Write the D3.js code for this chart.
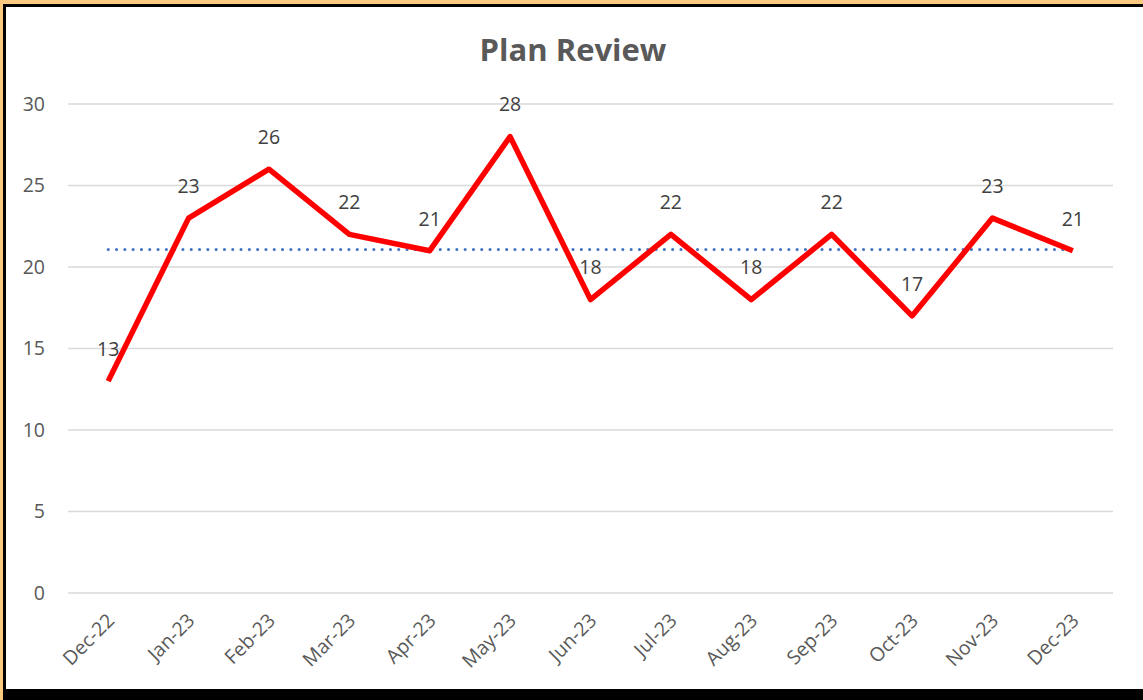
<!DOCTYPE html>
<html>
<head>
<meta charset="utf-8">
<script src="https://cdn.jsdelivr.net/npm/d3@7"></script>
<style>
  body { margin: 0; background: #fff; }
  svg { display: block; font-family: "Open Sans", sans-serif; }
</style>
</head>
<body>
<svg id="chart" width="1143" height="700"></svg>
<script>
var months = ["Dec-22","Jan-23","Feb-23","Mar-23","Apr-23","May-23","Jun-23","Jul-23","Aug-23","Sep-23","Oct-23","Nov-23","Dec-23"];
var reviews = [13, 23, 26, 22, 21, 28, 18, 22, 18, 22, 17, 23, 21];
var average = [21.08, 21.08]; // dotted line, first to last month
var yTicks = [0, 5, 10, 15, 20, 25, 30];

function drawChart(){
	var svg = d3.select("#chart");
	var W = 1143, H = 700;

	// frame: orange outer edge, black inner border
	svg.append("rect").attr("x", 0).attr("y", 0).attr("width", W).attr("height", H).attr("fill", "#fbc97f");
	svg.append("rect").attr("x", 3).attr("y", 4).attr("width", W).attr("height", H).attr("fill", "#000");
	svg.append("rect").attr("x", 6).attr("y", 7).attr("width", W).attr("height", 682).attr("fill", "#fff");

	var mLeft = 68, mRight = 1113, mTop = 104, mBottom = 593;

	var x = d3.scalePoint().domain(months).range([mLeft, mRight]).padding(0.5);
	var y = d3.scaleLinear().domain([0, 30]).range([mBottom, mTop]);

	// gridlines
	svg.append("g").selectAll("line").data(yTicks).enter().append("line")
		.attr("x1", mLeft).attr("x2", mRight)
		.attr("y1", function(d){ return y(d); })
		.attr("y2", function(d){ return y(d); })
		.attr("stroke", "#d9d9d9").attr("stroke-width", 1.5);

	// y axis labels
	var yAxis = d3.axisLeft(y).tickValues(yTicks).tickSize(0).tickPadding(0);
	svg.append("g").attr("transform", "translate(45,0)").call(yAxis)
		.call(function(g){ g.select(".domain").remove(); })
		.selectAll("text")
		.attr("fill", "#595959").style("font-size", "19.5px").style("font-family", "'Open Sans', sans-serif");

	// x axis labels, rotated
	var xAxis = d3.axisBottom(x).tickSize(0).tickPadding(0);
	svg.append("g").attr("transform", "translate(0," + (mBottom + 24) + ")").call(xAxis)
		.call(function(g){ g.select(".domain").remove(); })
		.selectAll("text")
		.attr("fill", "#595959").style("font-size", "19.5px").style("font-family", "'Open Sans', sans-serif")
		.attr("text-anchor", "end")
		.attr("y", 0)
		.attr("dy", "0.35em")
		.attr("transform", "translate(2,0) rotate(-45)");

	// average dotted line
	svg.append("line")
		.attr("x1", x(months[0])).attr("x2", x(months[months.length - 1]))
		.attr("y1", y(average[0])).attr("y2", y(average[1]))
		.attr("stroke", "#4472c4").attr("stroke-width", 3)
		.attr("stroke-linecap", "round")
		.attr("stroke-dasharray", "0.1,8.2");

	// series line
	var line = d3.line()
		.x(function(d, i){ return x(months[i]); })
		.y(function(d){ return y(d); });
	svg.append("path").datum(reviews)
		.attr("d", line)
		.attr("fill", "none")
		.attr("stroke", "#ff0000")
		.attr("stroke-width", 5.5)
		.attr("stroke-linejoin", "round");

	// data labels
	svg.append("g").selectAll("text").data(reviews).enter().append("text")
		.attr("x", function(d, i){ return x(months[i]); })
		.attr("y", function(d){ return y(d) - 32; })
		.attr("dy", "0.35em")
		.attr("text-anchor", "middle")
		.attr("fill", "#404040")
		.style("font-size", "19.5px")
		.text(function(d){ return d; });

	// title
	svg.append("text")
		.attr("x", 573).attr("y", 50)
		.attr("dy", "0.35em")
		.attr("text-anchor", "middle")
		.attr("fill", "#595959")
		.style("font-size", "31px")
		.style("font-weight", "bold")
		.text("Plan Review");
}
drawChart();
</script>
</body>
</html>
